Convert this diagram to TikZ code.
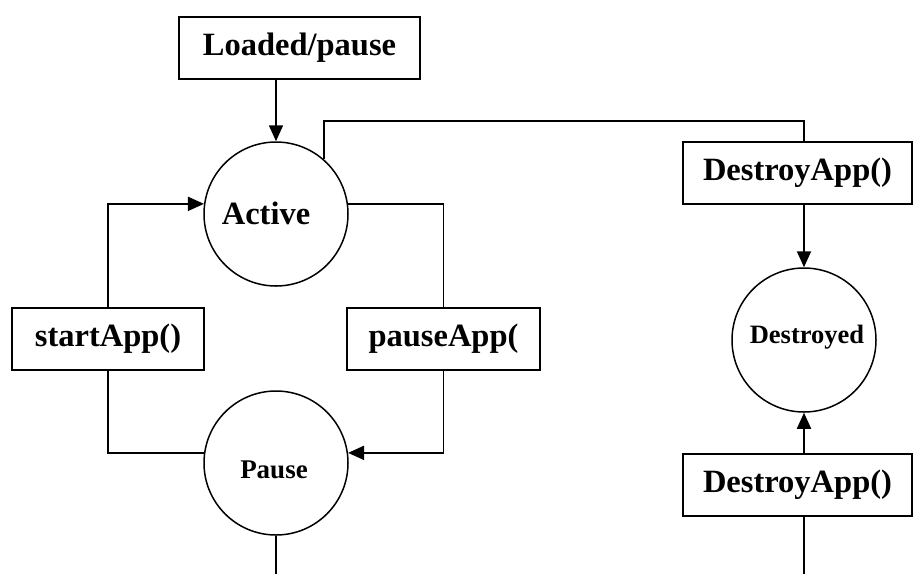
\documentclass[tikz,border=0pt]{standalone}
\usepackage{fontspec}
\setmainfont{Liberation Serif}
\usetikzlibrary{arrows.meta}
\begin{document}
\begin{tikzpicture}[x=1pt,y=-1pt,
  every node/.style={font=\fontsize{32.5}{37}\selectfont\bfseries},
  smalltext/.style={font=\fontsize{27}{31}\selectfont\bfseries},
  labelbox/.style={draw,line width=1.8pt,minimum height=62pt,inner sep=0pt},
  state/.style={draw,circle,line width=1.5pt,minimum size=144pt,inner sep=0pt},
  link/.style={line width=1.8pt},
  flow/.style={link,-{Triangle[length=16pt,width=14pt]}}]
\useasboundingbox (0,0) rectangle (914,574);

% states
\node[state] (active) at (276,214) {};
\node (activetext) at (266,213) {Active};
\node[state] (pause) at (276,463) {};
\node[smalltext] (pausetext) at (274,470) {Pause};
\node[state] (destroyed) at (804,340) {};
\node[smalltext,font=\fontsize{26.5}{30}\selectfont\bfseries] (destroyedtext) at (807,337) {Destroyed};

% transition labels
\node[labelbox,minimum width=241pt] (loaded) at (299.5,48) {Loaded/pause};
\node[labelbox,minimum width=192pt] (start) at (108,339) {startApp()};
\node[labelbox,minimum width=193pt] (pauseapp) at (443.5,339) {pauseApp(};
\node[labelbox,minimum width=229pt] (desttop) at (797.5,173) {DestroyApp()};
\node[labelbox,minimum width=229pt] (destbot) at (797.5,485) {DestroyApp()};

% free ends and corners
\coordinate (topturn) at (804,121);
\coordinate (pauseend) at (276,574);
\coordinate (destend) at (804,574);

% connectors
\draw[flow] (loaded.south -| active) -- (active.north);
\draw[flow] (start.north) |- (active.172);
\draw[link] (active.8) -| (pauseapp.north);
\draw[link] (start.south) |- (pause.172);
\draw[flow] (pauseapp.south) |- (pause.8);
\draw[link] (pause.south) -- (pauseend);
\draw[link] (active.49) |- (topturn) -- (desttop.north -| topturn);
\draw[flow] (desttop.south -| destroyed) -- (destroyed.north);
\draw[flow] (destbot.north -| destroyed) -- (destroyed.south);
\draw[link] (destbot.south -| destroyed) -- (destend);
\end{tikzpicture}
\end{document}
